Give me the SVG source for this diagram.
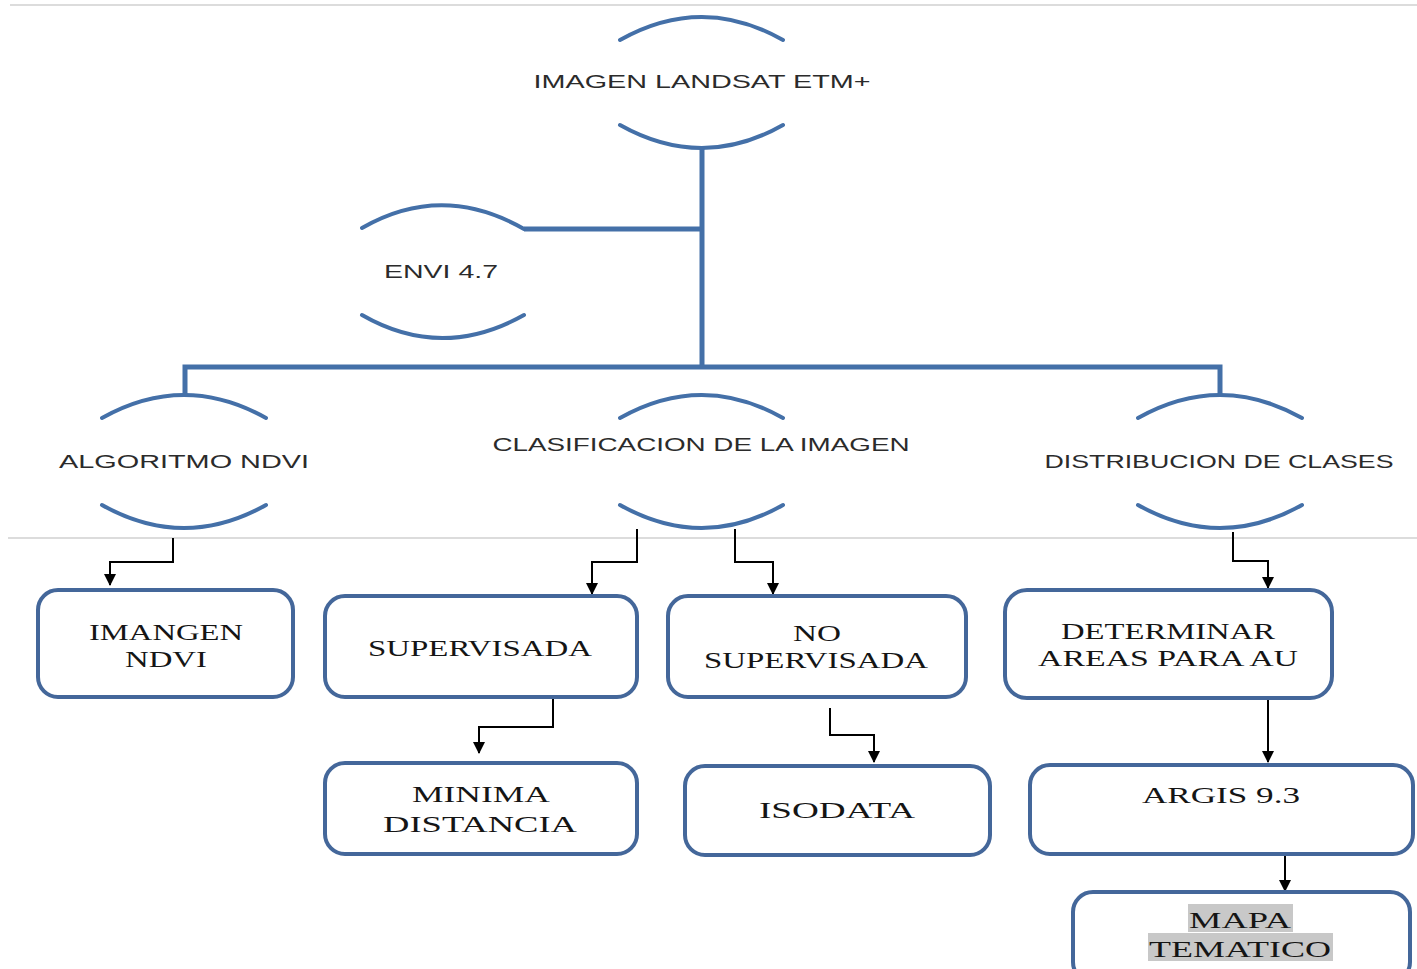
<svg xmlns="http://www.w3.org/2000/svg" width="1417" height="969" viewBox="0 0 1417 969">
<defs>
<marker id="ah" markerWidth="12" markerHeight="10" refX="6" refY="9" orient="auto" markerUnits="userSpaceOnUse" viewBox="0 0 12 10">
<path d="M0,0 L12,0 L6,10 Z" fill="#000" transform="rotate(-90 6 5) translate(0 0)"/>
</marker>
<marker id="arr" markerWidth="14" markerHeight="12" refX="11" refY="6" orient="auto" markerUnits="userSpaceOnUse">
<path d="M0,0 L12,6 L0,12 Z" fill="#000"/>
</marker>
</defs>
<style>
.arc{fill:none;stroke:#4470a8;stroke-width:4;stroke-linecap:round}
.trunk{fill:none;stroke:#4470a8;stroke-width:5}
.sans{font-family:"Liberation Sans",Arial,sans-serif;font-size:18px;fill:#2b2b2b;text-anchor:middle}
.box{fill:#fff;stroke:#44679a;stroke-width:4}
.serif{font-family:"Liberation Serif","Times New Roman",serif;font-size:23px;fill:#151515;text-anchor:middle}
.con{fill:none;stroke:#000;stroke-width:2;marker-end:url(#arr)}
.rule{stroke:#dcdcdc;stroke-width:2}
</style>
<rect width="1417" height="969" fill="#fff"/>
<line class="rule" x1="10" y1="5" x2="1417" y2="5"/>
<line class="rule" x1="8" y1="538" x2="1417" y2="538"/>

<g id="trunk-connectors">
<path class="trunk" d="M702,148 V367"/>
<path class="trunk" d="M524,229 H702"/>
<path class="trunk" d="M185,395 V367 H1220 V395"/>
</g>

<g id="n-landsat">
<path class="arc" d="M620,40 Q702,-6 783,40"/>
<path class="arc" d="M620,125 Q702,171 783,125"/>
<text class="sans" x="702" y="88" textLength="337" lengthAdjust="spacingAndGlyphs">IMAGEN LANDSAT ETM+</text>
</g>
<g id="n-envi">
<path class="arc" d="M362,228 Q442,182 524,229"/>
<path class="arc" d="M362,315 Q442,361 524,315"/>
<text class="sans" x="441" y="278" textLength="114" lengthAdjust="spacingAndGlyphs">ENVI 4.7</text>
</g>
<g id="n-ndvi-alg">
<path class="arc" d="M102,418 Q184,372 266,418"/>
<path class="arc" d="M102,505 Q184,551 266,505"/>
<text class="sans" x="184" y="468" textLength="250" lengthAdjust="spacingAndGlyphs">ALGORITMO NDVI</text>
</g>
<g id="n-clasif">
<path class="arc" d="M620,418 Q702,372 783,418"/>
<path class="arc" d="M620,505 Q702,551 783,505"/>
<text class="sans" x="701" y="451" textLength="417" lengthAdjust="spacingAndGlyphs">CLASIFICACION DE LA IMAGEN</text>
</g>
<g id="n-distrib">
<path class="arc" d="M1138,418 Q1220,372 1302,418"/>
<path class="arc" d="M1138,505 Q1220,551 1302,505"/>
<text class="sans" x="1219" y="468" textLength="349" lengthAdjust="spacingAndGlyphs">DISTRIBUCION DE CLASES</text>
</g>

<g id="connectors">
<path class="con" d="M173,538 V562 H110 V585"/>
<path class="con" d="M637,529 V562 H592 V594"/>
<path class="con" d="M735,529 V562 H773 V594"/>
<path class="con" d="M1233,532 V561 H1268 V588"/>
<path class="con" d="M553,698 V727 H479 V753"/>
<path class="con" d="M830,708 V735 H874 V762"/>
<path class="con" d="M1268,698 V762"/>
<path class="con" d="M1285,855 V891"/>
</g>

<g id="b-imangen">
<rect class="box" x="38" y="590" width="255" height="107" rx="20"/>
<text class="serif" x="166" y="640" textLength="154" lengthAdjust="spacingAndGlyphs">IMANGEN</text>
<text class="serif" x="166" y="667" textLength="82" lengthAdjust="spacingAndGlyphs">NDVI</text>
</g>
<g id="b-super">
<rect class="box" x="325" y="596" width="312" height="101" rx="20"/>
<text class="serif" x="480" y="656" textLength="224" lengthAdjust="spacingAndGlyphs">SUPERVISADA</text>
</g>
<g id="b-nosuper">
<rect class="box" x="668" y="596" width="298" height="101" rx="20"/>
<text class="serif" x="817" y="641" textLength="48" lengthAdjust="spacingAndGlyphs">NO</text>
<text class="serif" x="816" y="668" textLength="224" lengthAdjust="spacingAndGlyphs">SUPERVISADA</text>
</g>
<g id="b-determinar">
<rect class="box" x="1005" y="590" width="327" height="108" rx="22"/>
<text class="serif" x="1168" y="639" textLength="214" lengthAdjust="spacingAndGlyphs">DETERMINAR</text>
<text class="serif" x="1168" y="666" textLength="260" lengthAdjust="spacingAndGlyphs">AREAS PARA AU</text>
</g>
<g id="b-minima">
<rect class="box" x="325" y="763" width="312" height="91" rx="20"/>
<text class="serif" x="481" y="802" textLength="138" lengthAdjust="spacingAndGlyphs">MINIMA</text>
<text class="serif" x="480" y="832" textLength="194" lengthAdjust="spacingAndGlyphs">DISTANCIA</text>
</g>
<g id="b-isodata">
<rect class="box" x="685" y="766" width="305" height="89" rx="20"/>
<text class="serif" x="837" y="818" textLength="156" lengthAdjust="spacingAndGlyphs">ISODATA</text>
</g>
<g id="b-argis">
<rect class="box" x="1030" y="765" width="383" height="89" rx="20"/>
<text class="serif" x="1221" y="803" textLength="158" lengthAdjust="spacingAndGlyphs">ARGIS 9.3</text>
</g>
<g id="b-mapa">
<rect class="box" x="1073" y="892" width="337" height="90" rx="20"/>
<rect x="1188" y="904" width="105" height="28" fill="#c8c8c8"/>
<rect x="1148" y="933" width="185" height="28" fill="#c8c8c8"/>
<text class="serif" x="1240" y="928" textLength="102" lengthAdjust="spacingAndGlyphs">MAPA</text>
<text class="serif" x="1240" y="957" textLength="182" lengthAdjust="spacingAndGlyphs">TEMATICO</text>
</g>
</svg>
